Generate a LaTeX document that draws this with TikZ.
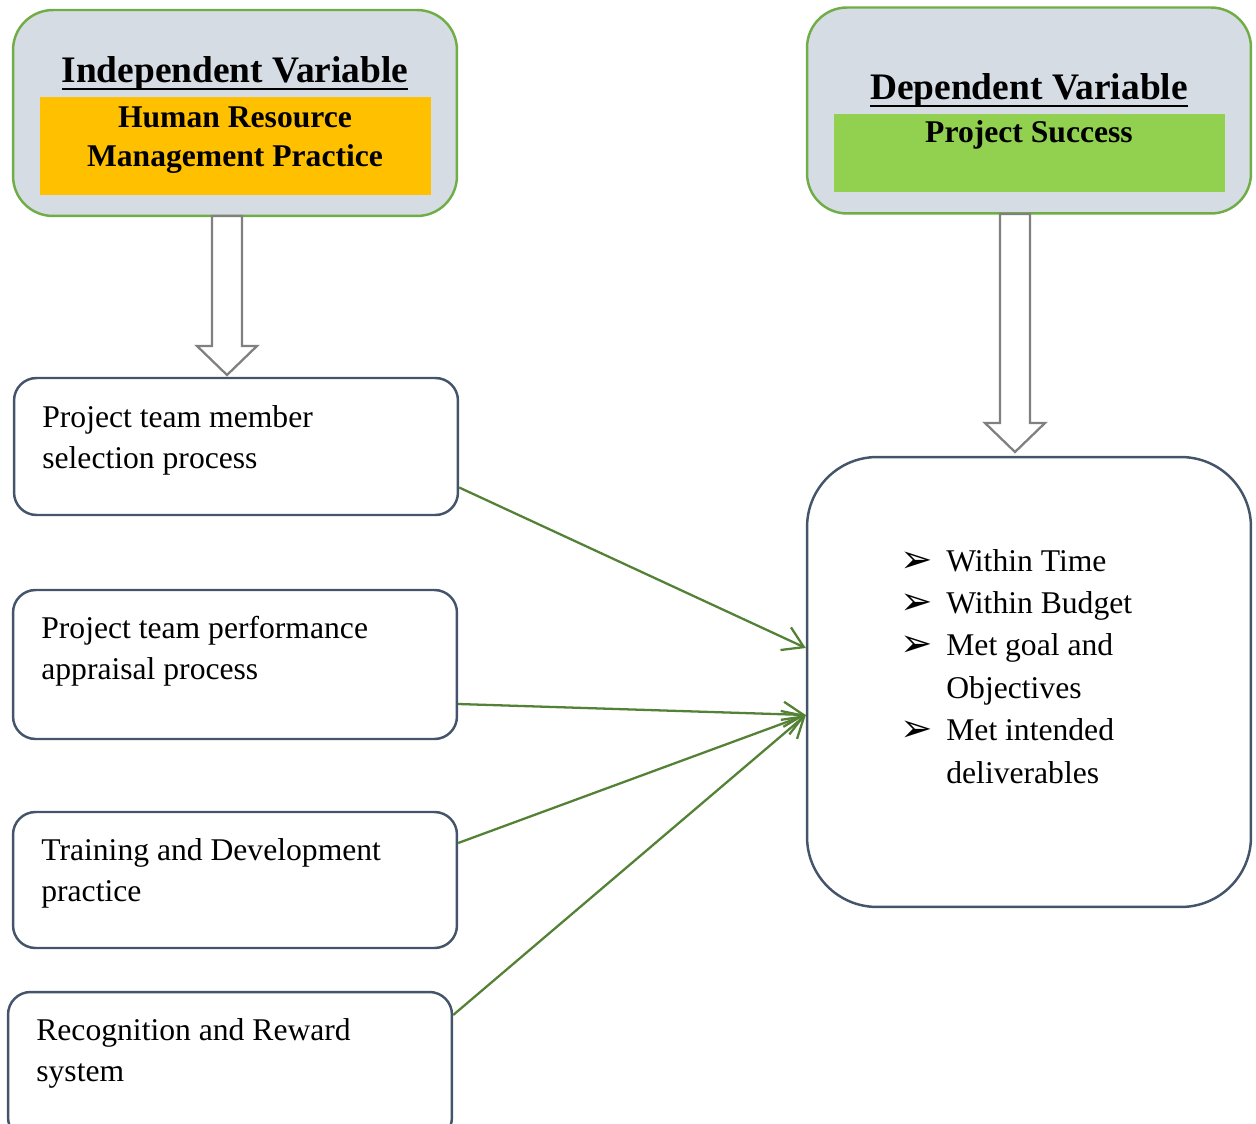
\documentclass[tikz,border=0pt]{standalone}
\usepackage{fontspec}
\setmainfont{Liberation Serif}
\newfontfamily\dejavu{DejaVu Sans}
\usetikzlibrary{arrows.meta}
\definecolor{panelfill}{HTML}{D6DCE4}
\definecolor{panelline}{HTML}{70AD47}
\definecolor{hrmorange}{HTML}{FFC000}
\definecolor{successgreen}{HTML}{92D050}
\definecolor{boxline}{HTML}{44546A}
\definecolor{linkgreen}{HTML}{538135}
\tikzset{
  panel/.style={draw=panelline,fill=panelfill,line width=1.4pt,rounded corners=0.8cm,minimum width=8.88cm,minimum height=4.12cm},
  factor/.style={draw=boxline,line width=1.4pt,rounded corners=0.45cm,minimum width=8.88cm},
  factortext/.style={anchor=north west,inner sep=0pt,align=left,font=\fontsize{18}{23.3}\selectfont},
  headtext/.style={anchor=base,inner sep=0pt,font=\fontsize{21.3}{24}\selectfont\bfseries},
  subtext/.style={anchor=base,inner sep=0pt,font=\fontsize{18}{22.8}\selectfont\bfseries},
  link/.style={draw=linkgreen,line width=1.3pt,-{Straight Barb[length=0.4cm,width=0.5cm,line width=1.3pt]}},
  hollow/.style={draw=gray,fill=white,line width=1.3pt}
}
\newcommand{\blockarrow}[3]{\draw[hollow] (#1-15,#2) -- (#1+15,#2) -- (#1+15,#3-29) -- (#1+30,#3-29) -- (#1,#3) -- (#1-30,#3-29) -- (#1-15,#3-29) -- cycle;}
\newcommand{\bul}{\makebox[0.92cm][l]{\raisebox{-0.5pt}{\dejavu\fontsize{22}{22}\selectfont ➢}}}
\newcommand{\thickul}[1]{\setbox0\hbox{#1}\rlap{\rule[-4.2pt]{\wd0}{1.6pt}}\box0}
\begin{document}
\begin{tikzpicture}[x=0.02cm,y=-0.02cm]
\useasboundingbox (0,0) rectangle (1256,1124);
% independent variable
\node[panel] (indep) at (235,113) {};
\node[fill=hrmorange,inner sep=0pt,minimum width=7.82cm,minimum height=1.96cm] (hrm) at (235.5,146) {};
\node[headtext] (indeptitle) at (235,83) {\thickul{Independent Variable}};
\node[subtext] (hrm1) at (235,128) {Human Resource};
\node[subtext] (hrm2) at (235,167) {Management Practice};
% dependent variable
\node[panel] (dep) at (1029,110.5) {};
\node[fill=successgreen,inner sep=0pt,minimum width=7.82cm,minimum height=1.56cm] (succ) at (1029.5,153) {};
\node[headtext] (deptitle) at (1029,100) {\thickul{Dependent Variable}};
\node[subtext] (succtext) at (1029,143) {Project Success};
% practices
\node[factor,minimum height=2.74cm] (sel) at (236,446.5) {};
\node[factor,minimum height=2.98cm] (appr) at (235,664.5) {};
\node[factor,minimum height=2.72cm] (train) at (235,880) {};
\node[factor,minimum height=2.96cm] (reward) at (230,1066) {};
\node[factortext] (seltext) at (42,405) {Project team member\\selection process};
\node[factortext] (apprtext) at (41,616) {Project team performance\\appraisal process};
\node[factortext] (traintext) at (41,838) {Training and Development\\practice};
\node[factortext] (rewardtext) at (36,1018) {Recognition and Reward\\system};
% outcome
\node[draw=boxline,line width=1.4pt,rounded corners=1.4cm,minimum width=8.88cm,minimum height=9cm] (outcome) at (1029,682) {};
\node[factortext,font=\fontsize{18}{24.1}\selectfont] (goals) at (900,549) {\bul Within Time\\\bul Within Budget\\\bul Met goal and\\\hspace*{0.92cm}Objectives\\\bul Met intended\\\hspace*{0.92cm}deliverables};
% block arrows
\blockarrow{227}{216}{375}
\blockarrow{1015}{214}{452}
% links
\draw[link] ([shift={(0,41)}]sel.east) -- ([shift={(0,-34)}]outcome.west);
\draw[link] ([shift={(0,39.5)}]appr.east) -- ([shift={(0,33)}]outcome.west);
\draw[link] ([shift={(0,-37)}]train.east) -- ([shift={(0,33)}]outcome.west);
\draw[link] ([shift={(0,-51)}]reward.east) -- ([shift={(0,33)}]outcome.west);
\end{tikzpicture}
\end{document}
